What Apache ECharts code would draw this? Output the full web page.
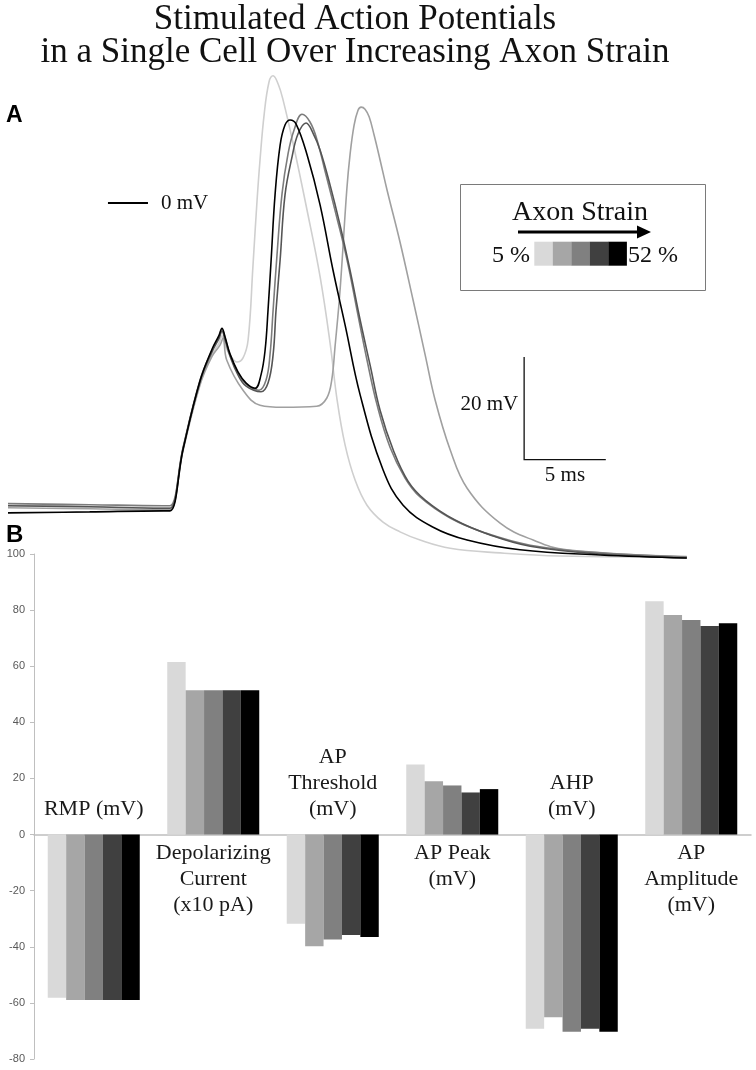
<!DOCTYPE html>
<html><head><meta charset="utf-8">
<script src="https://cdn.jsdelivr.net/npm/echarts@6/dist/echarts.min.js"></script>
<style>html,body{margin:0;padding:0;background:#fff}#c{width:756px;height:1070px}</style>
</head><body><div id="c"></div>
<script>
// ---------- Panel A: membrane potential traces, [time ms, voltage mV] ----------
const traceStrain1 = [[0,-59.0],[5.0,-59.2],[9.5,-59.4],[9.92,-59.4],[10.72,-47.8],[11.76,-35.0],[12.49,-29.6],[12.92,-27.3],[13.10,-25.9],[13.29,-27.7],[13.59,-29.6],[14.02,-31.0],[14.39,-30.2],[14.70,-26.7],[15.00,-12.1],[15.25,0.6],[15.43,8.4],[15.68,17.2],[15.98,23.6],[16.23,24.8],[16.54,23.2],[16.84,20.1],[17.45,11.7],[18.31,-1.4],[19.11,-14.4],[19.72,-27.3],[20.15,-38.4],[20.64,-47.2],[21.25,-54.0],[21.98,-58.9],[22.96,-62.2],[24.00,-64.1],[25.23,-65.7],[27.07,-67.3],[30.13,-68.2],[33.80,-68.8],[41.56,-69.0]];
const traceStrain2 = [[0,-59.4],[5.0,-59.6],[9.5,-59.8],[9.92,-59.8],[10.72,-48.2],[11.76,-35.4],[12.49,-29.9],[12.98,-27.7],[13.17,-26.3],[13.39,-30.6],[14.39,-36.5],[15.43,-39.4],[16.84,-39.8],[18.90,-39.6],[19.52,-38.0],[19.82,-34.5],[20.02,-28.1],[20.33,-17.0],[20.74,2.5],[20.94,9.4],[21.19,15.2],[21.43,18.1],[21.62,18.7],[21.86,18.3],[22.11,16.8],[22.41,13.3],[22.78,8.4],[23.21,2.5],[24.00,-7.6],[24.80,-18.9],[25.54,-29.6],[26.15,-38.4],[27.07,-48.1],[28.11,-55.6],[30.13,-62.4],[32.15,-65.7],[34.21,-67.6],[41.56,-68.9]];
const traceStrain3 = [[0,-58.6],[5.0,-58.8],[9.5,-59.0],[9.92,-59.0],[10.72,-47.6],[11.76,-34.5],[12.49,-28.7],[12.92,-26.0],[13.10,-24.6],[13.29,-26.3],[13.59,-29.6],[14.08,-33.1],[14.58,-35.3],[15.37,-36.5],[15.80,-34.5],[16.04,-29.6],[16.23,-20.9],[16.47,-10.1],[16.78,1.9],[17.15,9.7],[17.51,14.2],[18.00,17.3],[18.49,15.8],[18.92,12.3],[19.47,5.5],[20.09,-2.3],[20.76,-11.1],[21.37,-20.9],[21.98,-30.6],[22.60,-39.4],[23.39,-47.6],[24.31,-53.6],[25.23,-57.3],[27.07,-61.4],[29.21,-64.3],[31.97,-66.7],[36.25,-68.2],[41.56,-69.0]];
const traceStrain4 = [[0,-59.0],[5.0,-59.2],[9.5,-59.5],[9.92,-59.5],[10.72,-47.8],[11.76,-34.8],[12.49,-29.0],[12.92,-26.4],[13.10,-25.0],[13.29,-26.7],[13.59,-29.8],[14.08,-33.5],[14.58,-35.7],[15.49,-36.8],[15.92,-35.1],[16.23,-29.6],[16.41,-20.9],[16.66,-11.1],[16.96,1.6],[17.39,9.0],[17.76,13.5],[18.25,15.6],[18.68,13.6],[19.11,10.3],[19.72,3.5],[20.33,-4.3],[20.94,-13.1],[21.56,-22.8],[22.17,-31.6],[22.78,-40.4],[23.58,-48.1],[24.49,-54.2],[25.54,-57.9],[27.37,-61.8],[29.52,-64.7],[31.97,-66.9],[36.25,-68.4],[41.56,-69.2]];
const traceStrain5 = [[0,-60.4],[5.0,-60.2],[9.5,-60.0],[9.92,-60.0],[10.72,-48.0],[11.76,-34.6],[12.49,-28.5],[12.92,-25.8],[13.10,-24.4],[13.29,-26.1],[13.59,-29.4],[14.08,-32.9],[14.58,-35.1],[15.13,-36.1],[15.49,-33.5],[15.74,-28.7],[15.92,-20.9],[16.11,-11.1],[16.35,1.6],[16.66,11.3],[16.96,15.2],[17.27,16.2],[17.64,15.4],[18.31,9.4],[19.11,-0.4],[19.90,-13.1],[20.64,-23.8],[21.56,-37.4],[22.96,-52.0],[24.19,-58.9],[26.03,-63.2],[28.11,-65.7],[31.35,-67.6],[36.25,-68.6],[41.56,-69.2]];

// scale bars and 0 mV reference (data units)
const scaleBarOrigin = [31.6, -50];   // ms, mV
const scaleBarTime = 5;               // ms
const scaleBarVolt = 20;              // mV
const zeroRefTimes = [6.12, 8.57];    // ms, at 0 mV

// ---------- Panel B: bar chart ----------
const barCategories = ['RMP (mV)', 'Depolarizing\nCurrent\n(x10 pA)', 'AP\nThreshold\n(mV)', 'AP Peak\n(mV)', 'AHP\n(mV)', 'AP\nAmplitude\n(mV)'];
const barStrain1 = [-58.2, 61.5, -31.8, 25.0, -69.2, 83.2];
const barStrain2 = [-59.0, 51.4, -39.8, 19.0, -65.1, 78.3];
const barStrain3 = [-59.0, 51.4, -37.4, 17.5, -70.3, 76.5];
const barStrain4 = [-59.0, 51.4, -35.8, 15.0, -69.2, 74.3];
const barStrain5 = [-59.0, 51.4, -36.5, 16.2, -70.3, 75.3];
const barYMin = -80, barYMax = 100, barYInterval = 20;
const strainLow = '5 %', strainHigh = '52 %';

const barColors = ['#d9d9d9', '#a6a6a6', '#808080', '#404040', '#000000'];
const traceColors = ['#cfcfcf', '#a0a0a0', '#7c7c7c', '#555555', '#000000'];

const serif = '"Liberation Serif", "Times New Roman", serif';
const sans = '"Liberation Sans", Arial, sans-serif';

const chart = echarts.init(document.getElementById('c'), null, {renderer: 'canvas'});

const traces = [traceStrain1, traceStrain2, traceStrain3, traceStrain4, traceStrain5];
const bars = [barStrain1, barStrain2, barStrain3, barStrain4, barStrain5];

const series = [];
traces.forEach((d, i) => series.push({
  type: 'line', name: 'trace' + (i + 1), xAxisIndex: 0, yAxisIndex: 0, data: d,
  showSymbol: false, smooth: 0.4, silent: true,
  lineStyle: {color: traceColors[i], width: 1.6}, z: 2 + i
}));
bars.forEach((d, i) => series.push({
  type: 'bar', name: 'bar' + (i + 1), xAxisIndex: 1, yAxisIndex: 1, data: d,
  barGap: '0%', barCategoryGap: '23%', silent: true,
  itemStyle: {color: barColors[i]}
}));

chart.setOption({
  animation: false,
  backgroundColor: '#fff',
  grid: [
    {left: 8, top: 59.4, width: 735, height: 513},
    {left: 34, top: 554, width: 717, height: 505}
  ],
  xAxis: [
    {type: 'value', gridIndex: 0, min: 0, max: 45, show: false},
    {type: 'category', gridIndex: 1, data: barCategories,
     axisLine: {onZero: true, lineStyle: {color: '#bfbfbf', width: 1.5}},
     axisTick: {show: false}, axisLabel: {show: false}}
  ],
  yAxis: [
    {type: 'value', gridIndex: 0, min: -72, max: 28, show: false},
    {type: 'value', gridIndex: 1, min: barYMin, max: barYMax, interval: barYInterval,
     axisLine: {show: true, lineStyle: {color: '#bfbfbf', width: 1}},
     axisTick: {show: true, length: 4, lineStyle: {color: '#bfbfbf'}},
     axisLabel: {color: '#595959', fontSize: 11, fontFamily: sans, margin: 9},
     splitLine: {show: false}}
  ],
  series: series
});

// ---------- annotations ----------
const pA = (t, v) => chart.convertToPixel({xAxisIndex: 0, yAxisIndex: 0}, [t, v]);
const pB = (c, v) => chart.convertToPixel({xAxisIndex: 1, yAxisIndex: 1}, [c, v]);
const g = [];

// title
g.push({type: 'text', style: {text: 'Stimulated Action Potentials\nin a Single Cell Over Increasing Axon Strain',
  x: 355, y: 3, textAlign: 'center', textVerticalAlign: 'top', fontFamily: serif, fontSize: 35, lineHeight: 33.4, fill: '#111'}});
// panel letters
g.push({type: 'text', style: {text: 'A', x: 6, y: 116, textVerticalAlign: 'middle', fontFamily: sans, fontWeight: 'bold', fontSize: 23, fill: '#000'}});
g.push({type: 'text', style: {text: 'B', x: 6, y: 535, textVerticalAlign: 'middle', fontFamily: sans, fontWeight: 'bold', fontSize: 24, fill: '#000'}});

// 0 mV reference
const z0 = pA(zeroRefTimes[0], 0), z1 = pA(zeroRefTimes[1], 0);
g.push({type: 'line', shape: {x1: z0[0], y1: z0[1], x2: z1[0], y2: z1[1]}, style: {stroke: '#000', lineWidth: 2}});
g.push({type: 'text', style: {text: '0 mV', x: z1[0] + 13, y: z1[1], textVerticalAlign: 'middle', fontFamily: serif, fontSize: 21, fill: '#111'}});

// scale bars
const sb0 = pA(scaleBarOrigin[0], scaleBarOrigin[1] + scaleBarVolt);
const sb1 = pA(scaleBarOrigin[0], scaleBarOrigin[1]);
const sb2 = pA(scaleBarOrigin[0] + scaleBarTime, scaleBarOrigin[1]);
g.push({type: 'polyline', shape: {points: [sb0, sb1, sb2]}, style: {stroke: '#111', lineWidth: 1.3, fill: null}});
g.push({type: 'text', style: {text: scaleBarVolt + ' mV', x: sb1[0] - 6, y: (sb0[1] + sb1[1]) / 2 - 4, textAlign: 'right', textVerticalAlign: 'middle', fontFamily: serif, fontSize: 21, fill: '#111'}});
g.push({type: 'text', style: {text: scaleBarTime + ' ms', x: (sb1[0] + sb2[0]) / 2, y: sb1[1] + 16, textAlign: 'center', textVerticalAlign: 'middle', fontFamily: serif, fontSize: 21, fill: '#111'}});

// strain legend box
g.push({type: 'rect', shape: {x: 460.5, y: 184.5, width: 245, height: 106}, style: {fill: '#fff', stroke: '#7a7a7a', lineWidth: 1}});
g.push({type: 'text', style: {text: 'Axon Strain', x: 580, y: 213, textAlign: 'center', textVerticalAlign: 'middle', fontFamily: serif, fontSize: 28, fill: '#111'}});
g.push({type: 'line', shape: {x1: 518, y1: 232, x2: 640, y2: 232}, style: {stroke: '#000', lineWidth: 3}});
g.push({type: 'polygon', shape: {points: [[637, 225.5], [651, 232], [637, 238.5]]}, style: {fill: '#000'}});
barColors.forEach((c, i) => g.push({type: 'rect', shape: {x: 534.3 + i * 18.5, y: 241.7, width: 18.6, height: 24}, style: {fill: c}}));
g.push({type: 'text', style: {text: strainLow, x: 530, y: 256, textAlign: 'right', textVerticalAlign: 'middle', fontFamily: serif, fontSize: 24, fill: '#111'}});
g.push({type: 'text', style: {text: strainHigh, x: 628, y: 256, textAlign: 'left', textVerticalAlign: 'middle', fontFamily: serif, fontSize: 24, fill: '#111'}});

// category labels in panel B, placed on the side of zero opposite to the bars
barCategories.forEach((name, i) => {
  const p = pB(i, 0);
  const neg = barStrain1[i] < 0;
  g.push({type: 'text', z: 100, style: {text: name, x: p[0], y: neg ? p[1] - 12 : p[1] + 6,
    textAlign: 'center', textVerticalAlign: neg ? 'bottom' : 'top',
    fontFamily: serif, fontSize: 22, lineHeight: 26, fill: '#1a1a1a'}});
});

chart.setOption({graphic: g});
</script></body></html>
